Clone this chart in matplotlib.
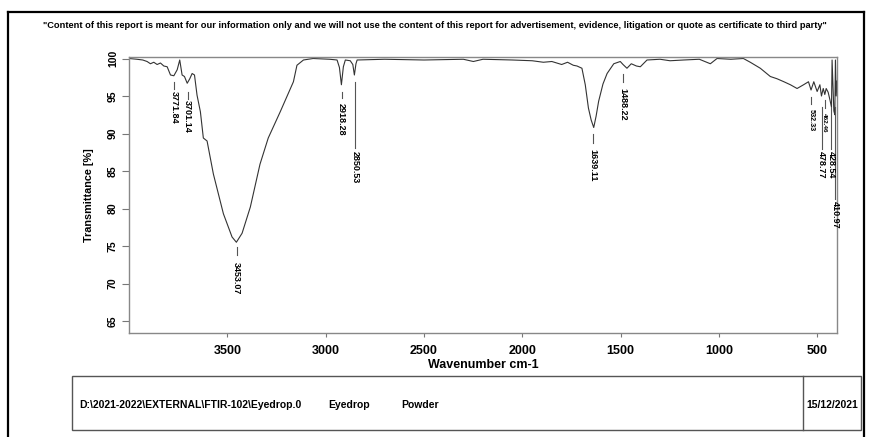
import matplotlib
matplotlib.use("Agg")
import matplotlib.pyplot as plt
from matplotlib.lines import Line2D
from matplotlib.patches import Rectangle

plt.rcParams['font.family'] = ['Liberation Sans', 'DejaVu Sans']

# ---------------- data ----------------
wavenumber = [4000, 3960, 3930, 3908, 3891, 3874, 3857, 3840, 3823, 3806, 3789, 3772,
              3755, 3742, 3730, 3718, 3704, 3691, 3679, 3667, 3654, 3637, 3622, 3603,
              3571, 3520, 3476, 3454, 3425, 3383, 3334, 3292, 3231, 3164, 3146, 3113,
              3064, 2980, 2942, 2930, 2920, 2910, 2900, 2875, 2862, 2854, 2846, 2840,
              2700, 2500, 2300, 2249, 2200, 2050, 1950, 1893, 1850, 1800, 1770, 1741,
              1722, 1697, 1680, 1664, 1650, 1637, 1625, 1612, 1590, 1569, 1535, 1502,
              1488, 1468, 1446, 1420, 1400, 1366, 1300, 1249, 1180, 1100, 1044, 1010,
              940, 876, 841, 790, 739, 705, 670, 637, 603, 570, 545, 532, 518, 501,
              487, 479, 470, 462, 455, 445, 436, 428, 425, 420, 416, 411, 408, 404, 400]
transmittance = [100.0, 99.9, 99.8, 99.6, 99.3, 99.5, 99.2, 99.4, 99.0, 98.9, 97.8, 97.7,
                 98.5, 99.8, 97.8, 97.6, 96.7, 97.3, 98.0, 97.8, 95.1, 92.9, 89.4, 89.0,
                 84.6, 79.3, 76.2, 75.5, 76.7, 80.2, 85.9, 89.4, 92.9, 96.9, 99.1, 99.8,
                 100.0, 99.9, 99.8, 98.8, 96.5, 98.9, 99.8, 99.7, 99.2, 97.8, 99.3, 99.8,
                 99.9, 99.8, 99.9, 99.6, 99.9, 99.8, 99.7, 99.5, 99.6, 99.2, 99.5, 99.1,
                 99.0, 98.7, 96.5, 93.4, 91.8, 90.8, 92.3, 94.3, 96.6, 98.0, 99.3, 99.6,
                 99.2, 98.7, 99.3, 99.0, 98.9, 99.8, 99.9, 99.7, 99.8, 99.9, 99.3, 100.0,
                 99.9, 100.0, 99.5, 98.7, 97.6, 97.3, 96.9, 96.5, 96.0, 96.5, 96.9, 95.8,
                 96.9, 95.6, 96.5, 95.0, 96.0, 95.2, 96.0, 95.5, 94.5, 93.5, 99.8, 96.0,
                 93.0, 92.5, 99.8, 95.0, 97.0]

peak_labels = ["3771.84", "3701.14", "3453.07", "2918.28", "2850.53", "1639.11",
               "1488.22", "532.33", "462.46", "478.77", "428.54", "410.97"]
peak_positions = [3771.84, 3701.14, 3453.07, 2918.28, 2850.53, 1639.11,
                  1488.22, 532.33, 462.46, 478.77, 428.54, 410.97]

x_ticks = [3500, 3000, 2500, 2000, 1500, 1000, 500]
y_ticks = [65, 70, 75, 80, 85, 90, 95, 100]

title_text = ('"Content of this report is meant for our information only and we will not use the content '
              'of this report for advertisement, evidence, litigation or quote as certificate to third party"')
file_path = r"D:\2021-2022\EXTERNAL\FTIR-102\Eyedrop.0"
sample_name = "Eyedrop"
sample_form = "Powder"
date_text = "15/12/2021"

# ---------------- layout (label stacking, in axis units) ----------------
label_line_top = [96.9, 95.57, 74.84, 95.57, 96.9, 89.89, 97.95, 94.91, 94.52, 93.59, 93.59, 93.59]
label_line_bot = [95.97, 94.65, 73.78, 94.78, 88.05, 88.71, 96.9, 93.99, 93.46, 87.91, 87.91, 81.31]
label_text_top = [95.71, 94.52, 72.85, 94.12, 87.65, 87.91, 96.11, 93.33, 92.8, 87.65, 87.65, 81.04]
label_size = [6.5, 6.5, 6.5, 6.5, 6.5, 6.5, 6.5, 5.2, 4.6, 6.5, 6.5, 6.5]

W, H = 870, 437
fig = plt.figure(figsize=(W / 100, H / 100), dpi=100)

def fx(px):
    return px / W

def fy(py):
    return 1 - py / H

# outer frame
fig.add_artist(Line2D([fx(8), fx(8)], [fy(12), 0], color='black', lw=1.6))
fig.add_artist(Line2D([fx(8), fx(864)], [fy(12), fy(12)], color='black', lw=1.6))
fig.add_artist(Line2D([fx(864), fx(864)], [fy(12), 0], color='black', lw=1.6))

fig.text(fx(435), fy(25), title_text, ha='center', va='center', fontsize=6.7, fontweight='bold')

ax = fig.add_axes([fx(129), fy(333), fx(837) - fx(129), fy(57) - fy(333)])
ax.plot(wavenumber, transmittance, color='#333333', lw=0.8)
ax.set_xlim(4000, 400)
ax.set_ylim(63.4, 100.2)
ax.set_xticks(x_ticks)
ax.set_yticks(y_ticks)
ax.tick_params(axis='x', length=3, width=0.8, color='#777777', labelsize=9, pad=6)
ax.tick_params(axis='y', length=5, width=0.8, color='#777777', labelsize=7.5, pad=3)
for lab in ax.get_yticklabels():
    lab.set_rotation(90)
    lab.set_va('center')
    lab.set_fontweight('bold')
for lab in ax.get_xticklabels():
    lab.set_fontweight('bold')
for s in ax.spines.values():
    s.set_color('#888888')
    s.set_linewidth(1.0)
ax.set_xlabel('Wavenumber cm-1', fontsize=9, fontweight='bold', labelpad=1)
ax.set_ylabel('Transmittance [%]', fontsize=7.8, fontweight='bold', labelpad=10)

for pos, lab, lt, lb, tt, fs in zip(peak_positions, peak_labels, label_line_top,
                                    label_line_bot, label_text_top, label_size):
    ax.plot([pos, pos], [lt, lb], color='#555555', lw=0.8)
    ax.text(pos, tt, lab, rotation=-90, ha='center', va='top', fontsize=fs, fontweight='bold')

# info table
fig.add_artist(Rectangle((fx(72), fy(430)), fx(861) - fx(72), fy(376) - fy(430),
                         fill=False, edgecolor='#555555', lw=1.0))
fig.add_artist(Line2D([fx(803), fx(803)], [fy(430), fy(376)], color='#555555', lw=1.0))
fig.text(fx(79), fy(405), file_path, ha='left', va='center', fontsize=7.5, fontweight='bold')
fig.text(fx(328), fy(405), sample_name, ha='left', va='center', fontsize=7.5, fontweight='bold')
fig.text(fx(401), fy(405), sample_form, ha='left', va='center', fontsize=7.5, fontweight='bold')
fig.text(fx(806), fy(405), date_text, ha='left', va='center', fontsize=7.5, fontweight='bold')

fig.savefig('out.png', dpi=100)
